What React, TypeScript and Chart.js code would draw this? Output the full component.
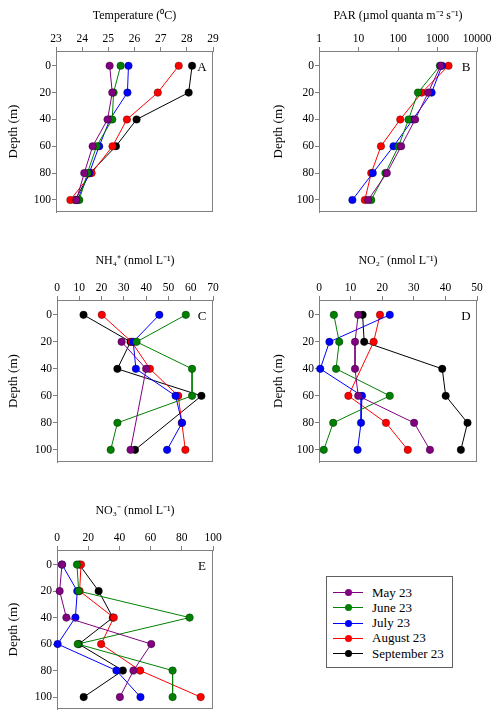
import React, { useEffect, useRef } from "react";
import Chart from "chart.js/auto";

// ---------- data ----------
const depths = [0, 20, 40, 60, 80, 100];
const months = ["May 23", "June 23", "July 23", "August 23", "September 23"];
const colors = ["#800080", "#008000", "#0000ff", "#ff0000", "#000000"];

// Temperature (°C)
const tempMay = [25.05, 25.15, 24.97, 24.4, 24.08, 23.78];
const tempJune = [25.47, 25.2, 25.15, 24.55, 24.2, 23.89];
const tempJuly = [25.77, 25.73, 25.06, 24.65, 24.27, 23.82];
const tempAug = [27.69, 26.89, 25.71, 25.16, 24.36, 23.55];
const tempSep = [28.2, 28.07, 26.08, 25.29, 24.3, 23.73];

// PAR (µmol quanta m-2 s-1)
const parMay = [1200, 580, 272, 120, 52, 17.5];
const parJune = [1150, 320, 185, 103, 48, 21];
const parJuly = [1300, 710, 238, 77, 23, 7];
const parAug = [1900, 400, 114, 37, 21, 14.5];
const parSep: (number | null)[] = [null, null, null, null, null, null];

// NH4+ (nmol L-1)
const nh4May = [null, 29, 40, null, null, 33];
const nh4June = [57.8, 35.7, 60.6, 60.6, 27.1, 24.1];
const nh4July = [45.9, 34.2, 35.4, 53.2, 56.1, 49.4];
const nh4Aug = [20.1, 33.5, 41.7, 54.4, 56, 57.6];
const nh4Sep = [11.9, 33, 27.1, 64.8, null, 35];

// NO2- (nmol L-1)
const no2May = [12.4, 11.4, 11.4, 12.4, 30.1, 35.1];
const no2June = [4.7, 6.4, 5.4, 22.4, 4.5, 1.5];
const no2July = [22.4, 3.3, 0.4, 13.6, 13.3, 12.2];
const no2Aug = [19.3, 17.3, null, 9.3, 21.2, 28.1];
const no2Sep = [13.8, 14.3, 39, 40.1, 47, 44.9];

// NO3- (nmol L-1)
const no3May = [3.2, 1.7, 6, 60.4, 49, 40.3];
const no3June = [12.8, 13.9, 85, 13.3, 74.1, 74.1];
const no3July = [3.2, 13, 11.8, 0.4, 38.1, 53.5];
const no3Aug = [15.4, 14.5, 36.4, 28.3, 53.3, 92.1];
const no3Sep = [14.3, 26.7, 35.8, 14, 42.2, 17.1];

// axis ticks
const depthTicks = [0, 20, 40, 60, 80, 100];
const tempTicks = [23, 24, 25, 26, 27, 28, 29];
const parTicks = [1, 10, 100, 1000, 10000];
const nh4Ticks = [0, 10, 20, 30, 40, 50, 60, 70];
const no2Ticks = [0, 10, 20, 30, 40, 50];
const no3Ticks = [0, 20, 40, 60, 80, 100];

const FONT = "'Liberation Serif', 'Times New Roman', serif";

type PanelCfg = {
  title: string;
  letter: string;
  series: (number | null)[][];
  xTicks: number[];
  log?: boolean;
  left: number;
  top: number;
  w: number;
  h: number;
  yW: number;
  xH: number;
  padR: number;
  padB: number;
  titlePad: number;
  yTitlePad: number;
};

const panels: PanelCfg[] = [
  {
    title: "Temperature (\u2070C)",
    letter: "A",
    series: [tempMay, tempJune, tempJuly, tempAug, tempSep],
    xTicks: tempTicks,
    left: 0, top: 0, w: 250, h: 230,
    yW: 56, xH: 51, padR: 37, padB: 18, titlePad: 8.5, yTitlePad: 6,
  },
  {
    title: "PAR (\u00B5mol quanta m\u207B\u00B2 s\u207B\u00B9)",
    letter: "B",
    series: [parMay, parJune, parJuly, parAug, parSep],
    xTicks: parTicks,
    log: true,
    left: 250, top: 0, w: 250, h: 230,
    yW: 69, xH: 51, padR: 23, padB: 18, titlePad: 8.5, yTitlePad: 21,
  },
  {
    title: "NH\u2084\u207A (nmol L\u207B\u00B9)",
    letter: "C",
    series: [nh4May, nh4June, nh4July, nh4Aug, nh4Sep],
    xTicks: nh4Ticks,
    left: 0, top: 240, w: 250, h: 230,
    yW: 57, xH: 60, padR: 37, padB: 8, titlePad: 14, yTitlePad: 6,
  },
  {
    title: "NO\u2082\u207B (nmol L\u207B\u00B9)",
    letter: "D",
    series: [no2May, no2June, no2July, no2Aug, no2Sep],
    xTicks: no2Ticks,
    left: 250, top: 240, w: 250, h: 230,
    yW: 69, xH: 60, padR: 23, padB: 8, titlePad: 14, yTitlePad: 21,
  },
  {
    title: "NO\u2083\u207B (nmol L\u207B\u00B9)",
    letter: "E",
    series: [no3May, no3June, no3July, no3Aug, no3Sep],
    xTicks: no3Ticks,
    left: 0, top: 480, w: 250, h: 240,
    yW: 57, xH: 70, padR: 37, padB: 11, titlePad: 24, yTitlePad: 6,
  },
];

const framePlugin = {
  id: "frame",
  beforeDatasetsDraw(chart: any) {
    const { ctx, chartArea: a } = chart;
    ctx.save();
    ctx.strokeStyle = "#808080";
    ctx.lineWidth = 1;
    const l = Math.round(a.left) + 0.5;
    const t = Math.round(a.top) + 0.5;
    const r = Math.round(a.right) - 0.5;
    const b = Math.round(a.bottom) - 0.5;
    ctx.strokeRect(l, t, r - l, b - t);
    ctx.restore();
  },
  afterDatasetsDraw(chart: any, _args: any, opts: any) {
    const { ctx, chartArea: a } = chart;
    const y0 = chart.scales.y.getPixelForValue(0);
    ctx.save();
    ctx.fillStyle = "#000";
    ctx.font = `13px ${FONT}`;
    ctx.textAlign = "center";
    ctx.textBaseline = "middle";
    ctx.fillText(opts.letter || "", a.right - 11, y0 + 2);
    ctx.restore();
  },
};

function Panel({ cfg }: { cfg: PanelCfg }) {
  const ref = useRef<HTMLCanvasElement | null>(null);
  useEffect(() => {
    if (!ref.current) return;
    const datasets = cfg.series.map((vals, i) => ({
      label: months[i],
      data: depths
        .map((d, k) => ({ x: vals[k], y: d }))
        .filter((p) => p.x !== null && p.x !== undefined),
      borderColor: colors[i],
      backgroundColor: colors[i],
      borderWidth: 1,
      pointRadius: 3.8,
      pointBackgroundColor: colors[i],
      pointBorderColor: "rgba(0,0,0,0.5)",
      pointBorderWidth: 0.6,
      showLine: true,
      clip: false as any,
      tension: 0,
    }));
    const xMin = cfg.xTicks[0];
    const xMax = cfg.xTicks[cfg.xTicks.length - 1];
    const chart = new Chart(ref.current, {
      type: "line",
      data: { datasets } as any,
      plugins: [framePlugin as any],
      options: {
        animation: false,
        responsive: false,
        events: [],
        layout: { padding: { left: 0, right: cfg.padR, top: 0, bottom: cfg.padB } },
        plugins: {
          legend: { display: false },
          tooltip: { enabled: false },
          frame: { letter: cfg.letter },
        } as any,
        scales: {
          x: {
            type: cfg.log ? "logarithmic" : "linear",
            position: "top",
            min: xMin,
            max: xMax,
            afterBuildTicks: (s: any) => {
              s.ticks = cfg.xTicks.map((v) => ({ value: v }));
            },
            afterFit: (s: any) => {
              s.height = cfg.xH;
            },
            grid: {
              display: true,
              drawOnChartArea: false,
              drawTicks: true,
              tickLength: 4,
              color: "#808080",
            },
            border: { display: true, color: "#808080" },
            ticks: {
              color: "#000",
              font: { family: FONT, size: 11.5 },
              padding: 1,
              maxRotation: 0,
              autoSkip: false,
              callback: (v: any) => String(v),
            },
            title: {
              display: true,
              text: cfg.title,
              color: "#000",
              font: { family: FONT, size: 12 },
              padding: { top: cfg.titlePad, bottom: 0 },
            },
          } as any,
          y: {
            type: "linear",
            reverse: true,
            min: -11,
            max: 109,
            afterBuildTicks: (s: any) => {
              s.ticks = depthTicks.map((v) => ({ value: v }));
            },
            afterFit: (s: any) => {
              s.width = cfg.yW;
            },
            grid: {
              display: true,
              drawOnChartArea: false,
              drawTicks: true,
              tickLength: 4,
              color: "#808080",
            },
            border: { display: true, color: "#808080" },
            ticks: {
              color: "#000",
              font: { family: FONT, size: 11.5 },
              padding: 1,
              autoSkip: false,
            },
            title: {
              display: true,
              text: "Depth (m)",
              color: "#000",
              font: { family: FONT, size: 13 },
              padding: { top: cfg.yTitlePad, bottom: 0 },
            },
          } as any,
        },
      },
    });
    return () => chart.destroy();
  }, [cfg]);
  return (
    <canvas
      ref={ref}
      width={cfg.w}
      height={cfg.h}
      style={{ position: "absolute", left: cfg.left, top: cfg.top, width: cfg.w, height: cfg.h }}
    />
  );
}

function Legend() {
  const boxLeft = 326;
  const boxTop = 576;
  const rowStart = 15.7;
  const rowStep = 15.25;
  return (
    <div
      style={{
        position: "absolute",
        left: boxLeft,
        top: boxTop,
        width: 127,
        height: 92,
        boxSizing: "border-box",
        border: "1px solid #606060",
        background: "#fff",
      }}
    >
      {months.map((m, i) => {
        const cy = rowStart + i * rowStep;
        return (
          <div
            key={m}
            style={{
              position: "absolute",
              left: 6,
              top: cy - 9,
              height: 18,
              display: "flex",
              alignItems: "center",
              whiteSpace: "nowrap",
            }}
          >
            <div style={{ position: "relative", width: 30, height: 18 }}>
              <div
                style={{
                  position: "absolute",
                  left: 0,
                  top: 8.5,
                  width: 30,
                  height: 1,
                  background: colors[i],
                }}
              />
              <div
                style={{
                  position: "absolute",
                  left: 11.5,
                  top: 5.5,
                  width: 7,
                  height: 7,
                  borderRadius: "50%",
                  background: colors[i],
                }}
              />
            </div>
            <span
              style={{
                marginLeft: 9,
                fontFamily: FONT,
                fontSize: 13,
                lineHeight: "18px",
                color: "#000",
              }}
            >
              {m}
            </span>
          </div>
        );
      })}
    </div>
  );
}

export default function App() {
  return (
    <div
      style={{
        position: "absolute",
        left: 0,
        top: 0,
        width: 500,
        height: 720,
        background: "#fff",
        overflow: "hidden",
      }}
    >
      {panels.map((p) => (
        <Panel key={p.letter} cfg={p} />
      ))}
      <Legend />
    </div>
  );
}
